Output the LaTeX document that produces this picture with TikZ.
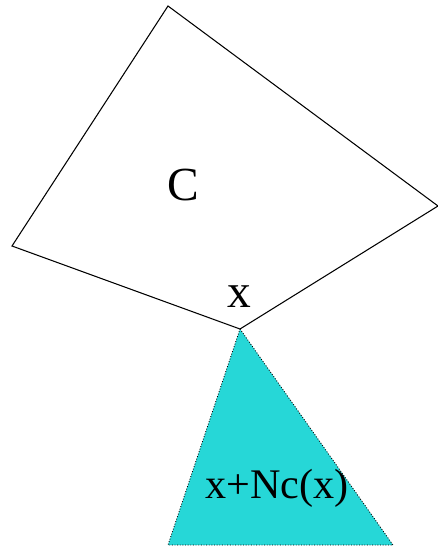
\documentclass[tikz,border=0pt]{standalone}
\usepackage{fontspec}
\setmainfont{Liberation Serif}
\definecolor{ConeColor}{RGB}{38,215,215}
\usetikzlibrary{positioning, calc}

\begin{document}
\begin{tikzpicture}[x=0.02cm, y=-0.02cm, thin]
    \useasboundingbox (0,0) rectangle (438,548);
    % Corners of the set
    \coordinate (top) at (168,6);
    \coordinate (right) at (438,206);
    \coordinate (x) at (240,329);
    \coordinate (left) at (12,246);
    % Corners of the cone
    \coordinate (coneL) at (168,545);
    \coordinate (coneR) at (393,545);
    % Normal cone
    \fill[ConeColor] (x) -- (coneR) -- (coneL) -- cycle;
    \draw[densely dotted, line width=0.5pt] (x) -- (coneR) -- (coneL) -- cycle;
    % The set
    \draw[line width=0.6pt] (top) -- (right) -- (x) -- (left) -- cycle;
    % Labels
    \node[font=\fontsize{27}{30}\selectfont, anchor=base, inner sep=0pt] (setlabel) at (183,200) {C};
    \node[font=\fontsize{27}{30}\selectfont, anchor=base, inner sep=0pt] (xlabel) at (239,307) {x};
    \node[font=\fontsize{24}{27}\selectfont, anchor=base, inner sep=0pt] (conelabel) at (277,498) {x+Nc(x)};
\end{tikzpicture}
\end{document}
